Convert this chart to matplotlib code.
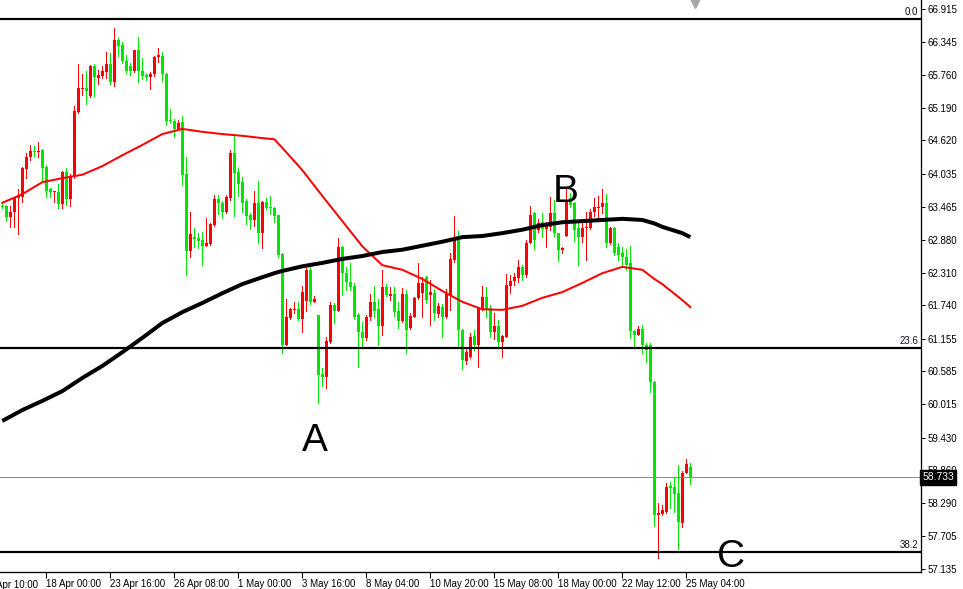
"""
4H price chart (MT4 style) with two moving averages and Fibonacci levels.
Output: out.png (963 x 589)
"""
import matplotlib
matplotlib.use("Agg")
import matplotlib.pyplot as plt
import matplotlib.transforms as mtransforms

plt.rcParams["font.family"] = ["Liberation Sans", "DejaVu Sans"]

# ── Data ─────────────────────────────────────────────────────────────────────
opens = [
    63.47, 63.47, 63.28, 63.37, 63.61, 63.63, 64.12, 64.33, 64.43, 64.42,
    64.45, 64.16, 63.77, 63.72, 63.72, 63.51, 64.07, 63.60, 63.98, 65.12,
    65.52, 65.54, 65.40, 65.92, 65.71, 65.74, 65.81, 65.95, 65.64, 66.37,
    66.29, 66.01, 65.92, 65.83, 66.20, 65.83, 65.76, 65.73, 65.78, 66.08,
    66.09, 65.78, 64.98, 64.96, 64.82, 64.94, 64.03, 62.69, 62.93, 62.91,
    62.88, 62.78, 62.81, 63.14, 63.60, 63.53, 63.37, 63.61, 64.40, 64.07,
    63.89, 63.56, 63.32, 63.23, 63.53, 63.00, 63.54, 63.46, 63.44, 63.32,
    62.64, 61.05, 61.52, 61.66, 61.67, 61.50, 61.81, 62.36, 61.80, 61.57,
    60.54, 60.49, 61.10, 61.74, 61.64, 62.76, 62.30, 62.15, 62.08, 61.57,
    61.27, 61.17, 61.53, 61.80, 61.67, 61.38, 62.06, 61.90, 61.94, 61.64,
    61.47, 61.94, 61.34, 61.53, 61.87, 61.95, 62.23, 61.92, 61.95, 61.59,
    61.71, 61.53, 61.92, 62.53, 62.88, 61.31, 60.77, 60.84, 61.20, 61.05,
    61.67, 61.88, 61.69, 61.27, 61.38, 61.10, 61.19, 62.08, 62.16, 62.22,
    62.41, 62.27, 62.83, 63.35, 63.06, 63.19, 63.07, 63.11, 63.35, 63.00,
    62.71, 62.95, 63.61, 63.53, 63.09, 62.93, 63.09, 63.09, 63.37, 63.44,
    63.46, 63.53, 62.83, 63.09, 62.76, 62.65, 62.58, 62.48, 61.29, 61.22,
    61.32, 61.05, 61.05, 60.40, 58.08, 58.09, 58.13, 58.58, 58.57, 58.46,
    57.94, 58.81, 58.92,
]
highs = [
    63.51, 63.49, 63.47, 63.63, 63.77, 64.16, 64.40, 64.54, 64.52, 64.59,
    64.47, 64.19, 63.79, 63.74, 63.86, 64.09, 64.14, 64.03, 65.22, 65.95,
    65.78, 65.83, 65.94, 65.95, 65.85, 65.92, 66.16, 66.15, 66.58, 66.41,
    66.34, 66.11, 65.97, 66.20, 66.43, 66.06, 65.80, 65.81, 66.09, 66.23,
    66.16, 65.80, 65.17, 64.99, 64.98, 65.05, 64.33, 63.37, 63.09, 63.00,
    63.02, 63.26, 63.18, 63.67, 63.67, 63.56, 63.67, 64.45, 64.71, 64.14,
    63.98, 63.60, 63.35, 63.74, 63.91, 63.56, 63.61, 63.65, 63.46, 63.32,
    62.65, 61.85, 61.69, 61.80, 61.80, 62.08, 62.39, 62.43, 61.90, 61.57,
    60.64, 61.19, 61.80, 61.78, 62.91, 62.78, 62.41, 62.48, 62.13, 61.60,
    61.45, 61.57, 61.94, 62.08, 61.85, 62.36, 62.11, 62.06, 62.06, 61.80,
    62.04, 62.01, 61.60, 61.88, 62.48, 62.23, 62.25, 62.18, 62.02, 61.78,
    61.76, 62.02, 62.65, 63.30, 63.04, 61.33, 60.99, 61.26, 61.31, 61.71,
    62.08, 62.06, 61.74, 61.60, 61.48, 61.22, 62.29, 62.27, 62.30, 62.53,
    62.44, 62.88, 63.47, 63.37, 63.25, 63.35, 63.19, 63.63, 63.58, 63.00,
    62.76, 63.77, 63.70, 63.54, 63.23, 63.19, 63.37, 63.42, 63.61, 63.65,
    63.77, 63.68, 63.11, 63.11, 62.83, 62.76, 62.72, 62.78, 61.31, 61.38,
    61.40, 61.08, 61.08, 60.42, 58.29, 58.25, 58.64, 58.65, 58.74, 58.95,
    58.85, 59.06, 58.99,
]
lows = [
    63.44, 63.21, 63.11, 63.11, 62.99, 63.54, 63.96, 64.28, 64.35, 64.33,
    63.91, 63.63, 63.63, 63.54, 63.44, 63.44, 63.49, 63.47, 63.96, 65.10,
    65.41, 65.26, 65.38, 65.40, 65.60, 65.71, 65.71, 65.60, 65.57, 66.09,
    65.97, 65.80, 65.76, 65.81, 65.64, 65.69, 65.68, 65.52, 65.74, 65.99,
    65.66, 64.89, 64.92, 64.68, 64.80, 63.84, 62.27, 62.58, 62.76, 62.74,
    62.44, 62.78, 62.79, 63.12, 63.33, 63.26, 63.35, 63.58, 63.30, 63.65,
    63.37, 63.16, 63.07, 63.12, 62.83, 62.74, 63.42, 63.33, 63.19, 62.58,
    60.91, 61.05, 61.50, 61.60, 61.48, 61.27, 61.64, 61.76, 61.80, 60.03,
    60.33, 60.30, 61.08, 61.43, 61.64, 61.92, 62.01, 62.01, 61.50, 60.66,
    61.01, 61.13, 61.48, 61.53, 61.05, 61.22, 61.90, 61.83, 61.55, 61.34,
    61.45, 60.91, 61.33, 61.53, 61.85, 61.53, 61.78, 61.40, 61.48, 61.53,
    61.19, 61.52, 61.66, 62.50, 60.99, 60.63, 60.71, 60.82, 60.96, 60.66,
    61.66, 61.53, 61.19, 61.15, 61.03, 60.84, 61.19, 61.95, 62.09, 62.15,
    62.18, 62.23, 62.83, 62.72, 63.02, 62.93, 62.76, 63.06, 62.95, 62.51,
    62.65, 62.95, 63.46, 62.86, 62.44, 62.84, 62.53, 63.07, 63.30, 63.26,
    63.35, 62.76, 62.81, 62.62, 62.53, 62.41, 62.36, 61.17, 61.01, 61.22,
    60.91, 60.75, 60.22, 57.88, 57.33, 58.08, 58.11, 58.20, 58.13, 57.48,
    57.87, 58.81, 58.62,
]
closes = [
    63.46, 63.28, 63.37, 63.61, 63.65, 64.14, 64.33, 64.43, 64.42, 64.43,
    64.14, 63.74, 63.72, 63.74, 63.51, 64.07, 63.60, 64.00, 65.13, 65.54,
    65.54, 65.48, 65.92, 65.73, 65.76, 65.83, 65.95, 65.64, 66.37, 66.27,
    66.01, 65.83, 65.83, 66.20, 65.83, 65.74, 65.73, 65.78, 66.08, 66.11,
    65.78, 64.96, 64.96, 64.82, 64.92, 64.02, 62.69, 62.99, 62.90, 62.86,
    62.78, 62.83, 63.16, 63.60, 63.53, 63.37, 63.63, 64.40, 64.05, 63.86,
    63.53, 63.30, 63.23, 63.53, 63.00, 63.54, 63.44, 63.44, 63.30, 62.62,
    61.05, 61.53, 61.67, 61.67, 61.50, 61.97, 62.36, 61.80, 61.85, 60.52,
    60.49, 61.12, 61.74, 61.64, 62.76, 62.30, 62.15, 62.06, 61.53, 61.27,
    61.17, 61.53, 61.80, 61.64, 61.38, 62.06, 61.92, 61.94, 61.62, 61.47,
    61.94, 61.31, 61.55, 61.87, 62.13, 62.13, 61.83, 61.97, 61.60, 61.73,
    61.53, 61.94, 62.55, 62.88, 61.31, 60.78, 60.92, 61.19, 61.05, 61.69,
    61.88, 61.67, 61.27, 61.38, 61.10, 61.20, 62.09, 62.16, 62.23, 62.41,
    62.27, 62.83, 63.32, 62.88, 63.18, 63.07, 63.14, 63.35, 63.00, 62.71,
    62.74, 63.54, 63.49, 63.06, 62.93, 63.09, 63.11, 63.37, 63.46, 63.46,
    63.53, 62.83, 63.09, 62.65, 62.62, 62.58, 62.44, 61.29, 61.22, 61.32,
    61.05, 60.96, 60.40, 58.08, 58.11, 58.16, 58.57, 58.55, 58.44, 57.96,
    58.81, 58.97, 58.733,
]

# moving averages, sampled at these bar indices
ma_idx = [0, 5, 10, 15, 20, 25, 30, 35, 40, 45, 50, 55, 60, 65, 68, 70, 75, 80,
          85, 90, 95, 100, 105, 110, 115, 120, 125, 130, 135, 140, 145, 150,
          155, 160, 163, 165, 170, 172]
ma_fast = [63.53, 63.68, 63.89, 63.96, 64.02, 64.17, 64.36, 64.54, 64.73, 64.82,
           64.77, 64.73, 64.70, 64.66, 64.64, 64.49, 64.10, 63.65, 63.21, 62.77,
           62.44, 62.36, 62.20, 61.99, 61.80, 61.67, 61.66, 61.73, 61.87, 61.97,
           62.13, 62.30, 62.41, 62.36, 62.20, 62.11, 61.83, 61.71]
ma_slow = [59.72, 59.91, 60.07, 60.24, 60.47, 60.68, 60.92, 61.17, 61.43, 61.62,
           61.78, 61.95, 62.11, 62.23, 62.30, 62.34, 62.42, 62.48, 62.55, 62.60,
           62.67, 62.71, 62.78, 62.85, 62.93, 62.95, 63.00, 63.06, 63.14, 63.19,
           63.21, 63.23, 63.25, 63.23, 63.17, 63.11, 63.00, 62.93]

fib_levels = [66.74, 60.99, 57.43]
fib_labels = ["0.0", "23.6", "38.2"]
last_price = 58.733

price_ticks = [66.915, 66.345, 65.760, 65.190, 64.620, 64.035, 63.465, 62.880,
               62.310, 61.740, 61.155, 60.585, 60.015, 59.430, 58.860, 58.290,
               57.705, 57.135]
time_tick_idx = [-5, 11, 27, 43, 59, 75, 91, 107, 123, 139, 155, 171]
time_labels = ["15 Apr 10:00", "18 Apr 00:00", "23 Apr 16:00", "26 Apr 08:00",
               "1 May 00:00", "3 May 16:00", "8 May 04:00", "10 May 20:00",
               "15 May 08:00", "18 May 00:00", "22 May 12:00", "25 May 04:00"]

points = [("A", 78.2, 59.19), ("B", 140.9, 63.54), ("C", 182.2, 57.17)]

# ── Style ────────────────────────────────────────────────────────────────────
UP = "#ff0000"
DOWN = "#00e600"
PX = 0.72  # one pixel in points at dpi 100

fig = plt.figure(figsize=(9.63, 5.89), dpi=100, facecolor="white")
ax = fig.add_axes([0, 17.5 / 589, 921 / 963, 571.5 / 589])
ax.set_xlim(-0.575, 229.675)
ax.set_ylim(57.090, 67.072)

# ── Candles ──────────────────────────────────────────────────────────────────
xs = list(range(len(opens)))
colors = [UP if c >= o else DOWN for o, c in zip(opens, closes)]
bottoms = [min(o, c) for o, c in zip(opens, closes)]
heights = [max(abs(c - o), 0.018) for o, c in zip(opens, closes)]
ax.vlines(xs, lows, highs, colors=colors, linewidth=PX, antialiased=False, zorder=2)
ax.bar(xs, heights, bottom=bottoms, width=0.75, color=colors, linewidth=0,
       antialiased=False, zorder=3)

# ── Moving averages ──────────────────────────────────────────────────────────
ax.plot(ma_idx, ma_fast, color="#ff0000", lw=2 * PX, zorder=4)
ax.plot(ma_idx, ma_slow, color="black", lw=4 * PX, zorder=4,
        solid_capstyle="butt")

# ── Fibonacci levels and last price line ─────────────────────────────────────
for lvl, lab in zip(fib_levels, fib_labels):
    ax.axhline(lvl, color="black", lw=2.2 * PX, zorder=5)
    ax.text(0.997, lvl + 0.035, lab, transform=ax.get_yaxis_transform(),
            ha="right", va="bottom", fontsize=7, color="#101020", zorder=6)

ax.axhline(last_price, color="#8c8c8c", lw=PX, zorder=5)
ax.text(1.0015, last_price, f"{last_price:.3f}", transform=ax.get_yaxis_transform(),
        ha="left", va="center", fontsize=7.5, color="white", zorder=10, clip_on=False,
        bbox=dict(boxstyle="square,pad=0.2", facecolor="black", edgecolor="black"))

# ── Point labels ─────────────────────────────────────────────────────────────
for name, xi, yp in points:
    ax.text(xi, yp, name, ha="center", va="baseline", fontsize=28,
            color="black", zorder=7, clip_on=False)

# small chart-shift marker at the top
trans = mtransforms.blended_transform_factory(ax.transData, ax.transAxes)
ax.plot([173.2], [1 - 3 / 571.5], marker="v", ms=7, color="#a6a6a6",
        mec="#a6a6a6", transform=trans, clip_on=False, zorder=8)

# ── Axes ─────────────────────────────────────────────────────────────────────
for side in ("top", "left"):
    ax.spines[side].set_visible(False)
for side in ("right", "bottom"):
    ax.spines[side].set_color("black")
    ax.spines[side].set_linewidth(1.3 * PX)

ax.yaxis.tick_right()
ax.set_yticks(price_ticks)
ax.set_yticklabels([f"{v:.3f}" for v in price_ticks])
ax.tick_params(axis="y", direction="out", length=3, width=PX, pad=2,
               labelsize=7, colors="black")

in_range = [(i, t) for i, t in zip(time_tick_idx, time_labels) if i >= 0]
ax.set_xticks([i for i, _ in in_range])
ax.set_xticklabels([t for _, t in in_range], ha="left")
ax.tick_params(axis="x", direction="out", length=4, width=PX, pad=1.5,
               labelsize=7, colors="black")
# the first label is cut off at the left edge
ax.text(time_tick_idx[0] + 0.2, -0.0155, time_labels[0],
        transform=mtransforms.blended_transform_factory(ax.transData, ax.transAxes),
        ha="left", va="top", fontsize=7, color="black", clip_on=False)

ax.set_facecolor("white")
fig.savefig("out.png", dpi=100, facecolor="white")
